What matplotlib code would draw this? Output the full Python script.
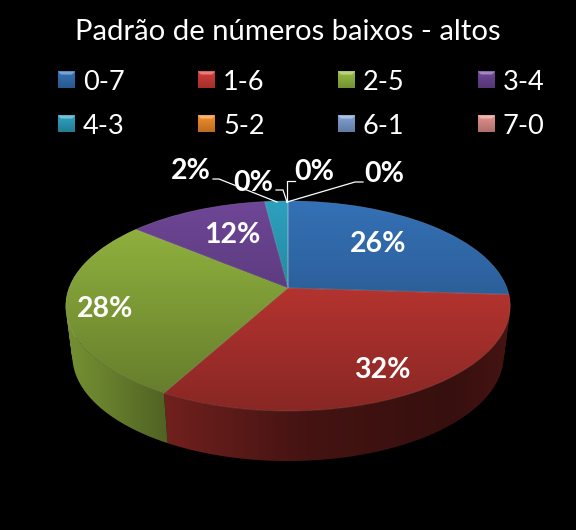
import numpy as np
import matplotlib
matplotlib.use("Agg")
import matplotlib.pyplot as plt
from matplotlib.patches import PathPatch, Polygon
from matplotlib.path import Path
from matplotlib.transforms import Transform

title = "Padrão de números baixos - altos"
categories = ["0-7", "1-6", "2-5", "3-4", "4-3", "5-2", "6-1", "7-0"]
values = [26, 32, 28, 12, 2, 0, 0, 0]
pct_labels = ["26%", "32%", "28%", "12%", "2%", "0%", "0%", "0%"]
colors = ["#3471B6", "#D23C37", "#96B941", "#6E4696", "#2DA0BE", "#F08C28", "#7D9FD2", "#E08F8A"]

W, H = 576, 530
label_pos = [(378.5, 244), (382, 370), (105, 309), (232, 235),
             (191, 171), (253, 183), (314, 172), (384, 174)]
leaders = [
    [(213, 179), (219, 179), (277, 202)],
    [(276, 190), (283, 190), (287, 202)],
    [(295, 181), (287, 181), (287, 202)],
    [(363, 182), (355, 182), (287, 202)],
]
legend_cols = [58, 198, 338, 478]
legend_rows = [90, 134]
SWATCH = 17
DEPTH = 50


class Perspective(Transform):
    """Projects the unit pie disc on to the tilted plane, in pixel coordinates."""
    input_dims = output_dims = 2
    is_separable = False
    has_inverse = False

    def __init__(self, dy=0.0, sx=1.0):
        super().__init__()
        self.dy, self.sx = dy, sx

    def transform_non_affine(self, pts):
        pts = np.asarray(pts, float)
        w = 1 + 0.171 * pts[:, 1]
        return np.column_stack([288 + self.sx * 219 * pts[:, 0] / w,
                                288 + self.dy - 102 * pts[:, 1] / w])


plt.rcParams["font.family"] = ["Lato", "DejaVu Sans"]
fig = plt.figure(figsize=(W / 100, H / 100), dpi=100, facecolor="black")
ax = fig.add_axes([0, 0, 1, 1], facecolor="black")

wedges, _ = ax.pie(values, startangle=90, counterclock=False, radius=1,
                   wedgeprops=dict(facecolor="none", edgecolor=(1, 1, 1, 0.10), linewidth=0.7))
top = Perspective()
bottom = Perspective(DEPTH, 0.97)
for w in wedges:
    w.set_transform(top + ax.transData)
    w.set_zorder(3)

yy, xx = np.mgrid[0.5:H, 0.5:W]
top_shade = np.clip(np.interp(yy, [201, 411], [1.0, 0.65]), 0, 1)
side_shade = np.interp(xx, [66, 100, 140, 165, 300, 450, 510],
                       [0.78, 0.71, 0.60, 0.54, 0.33, 0.26, 0.33])


def shaded(color, shade, zorder, clip):
    rgb = np.array(matplotlib.colors.to_rgb(color))
    im = ax.imshow(shade[..., None] * rgb, extent=(0, W, H, 0), origin="upper",
                   aspect="auto", interpolation="nearest", zorder=zorder)
    im.set_clip_path(clip)


def side_path(t0, t1):
    """Sweep of the rim between two angles, as consistently wound quads."""
    th = np.linspace(t0, t1, 120)
    arc = np.column_stack([np.sin(th), np.cos(th)])
    a, b = top.transform(arc), bottom.transform(arc)
    quads = []
    for j in range(len(th) - 1):
        q = np.array([a[j], a[j + 1], b[j + 1], b[j]])
        x, y = q.T
        if np.dot(x, np.roll(y, -1)) - np.dot(y, np.roll(x, -1)) < 0:
            q = q[::-1]
        quads.append(Path(np.vstack([q, q[:1]]), closed=True))
    return Path.make_compound_path(*quads)


edges = np.cumsum([0] + values) / sum(values) * 2 * np.pi
for i, val in enumerate(values):
    if val == 0:
        continue
    patch = PathPatch(side_path(edges[i], edges[i + 1]), facecolor="none", edgecolor="none",
                      transform=ax.transData)
    ax.add_patch(patch)
    shaded(colors[i], side_shade, 1, patch)
for i, val in enumerate(values):
    if val:
        shaded(colors[i], top_shade, 2, wedges[i])

for i, (x, y) in enumerate(label_pos):
    ax.text(x, y, pct_labels[i], color="white", fontsize=20.5, fontweight="bold",
            ha="center", va="center", zorder=6)
for pts in leaders:
    ax.plot(*zip(*pts), color="white", lw=0.9, zorder=5, solid_joinstyle="miter")

# bevelled legend swatches, rows read left to right
sw_y, sw_x = np.mgrid[0:1:20j, 0:1:2j]
for i, cat in enumerate(categories):
    x0 = legend_cols[i % 4]
    base = legend_rows[i // 4]
    y0 = base - 18.5
    rgb = np.array(matplotlib.colors.to_rgb(colors[i]))
    body = rgb * np.interp(sw_y, [0, 1], [1.02, 0.78])[..., None]
    ax.imshow(np.clip(body, 0, 1), extent=(x0, x0 + SWATCH, y0 + SWATCH, y0), origin="upper",
              aspect="auto", interpolation="bilinear", zorder=4)
    light = rgb + (1 - rgb) * 0.35
    ax.add_patch(Polygon([(x0, y0), (x0 + SWATCH, y0), (x0 + SWATCH - 3, y0 + 3), (x0 + 3, y0 + 3)],
                         closed=True, facecolor=light, edgecolor="none", zorder=5))
    ax.text(x0 + 25, base, cat, color="white", fontsize=19.5, ha="left", va="baseline", zorder=6)

ax.set_title(title, color="white", fontsize=21.1, y=1 - 40 / H, pad=0)
ax.set_xlim(0, W)
ax.set_ylim(H, 0)
ax.set_aspect("auto")
ax.set_axis_off()
fig.savefig("out.png", dpi=100, facecolor="black")
